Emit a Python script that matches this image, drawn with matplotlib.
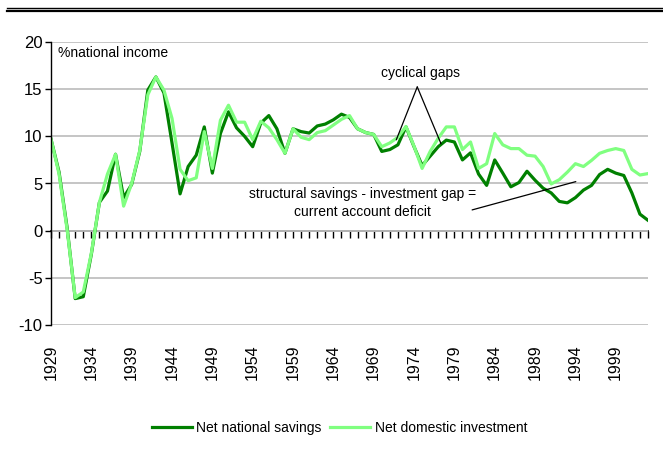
import matplotlib
matplotlib.use('Agg')
import matplotlib.pyplot as plt
from matplotlib.lines import Line2D
import numpy as np

plt.rcParams['font.family'] = ['Liberation Sans', 'DejaVu Sans']
plt.rcParams['axes.unicode_minus'] = False

years = np.arange(1929, 2004)
savings = [9.7, 6.2, 0.3, -7.2, -7.0, -2.5, 3.0, 4.2, 8.1, 3.5,
           4.9, 8.4, 14.9, 16.3, 14.6, 9.3, 3.9, 6.8, 8.0, 11.0,
           6.1, 10.3, 12.6, 10.9, 10.0, 8.9, 11.4, 12.2, 10.8, 8.2,
           10.8, 10.5, 10.35, 11.1, 11.3, 11.75, 12.35, 12.0, 10.8, 10.4,
           10.2, 8.4, 8.6, 9.1, 11.0, 8.9, 6.9, 7.9, 8.9, 9.6,
           9.4, 7.5, 8.25, 6.0, 4.8, 7.5, 6.1, 4.65, 5.1, 6.3,
           5.35, 4.5, 4.0, 3.1, 2.95, 3.5, 4.3, 4.8, 5.95, 6.5,
           6.1, 5.85, 4.0, 1.75, 1.1]
investment = [9.7, 6.0, 0.1, -7.1, -6.5, -2.4, 3.0, 6.0, 8.1, 2.6,
              5.0, 8.5, 14.4, 16.3, 14.9, 11.9, 6.5, 5.3, 5.6, 10.5,
              6.6, 11.7, 13.3, 11.5, 11.5, 9.65, 11.6, 10.9, 9.65, 8.2,
              10.8, 9.9, 9.65, 10.4, 10.6, 11.2, 11.8, 12.2, 10.8, 10.4,
              10.2, 8.9, 9.3, 9.9, 11.05, 8.95, 6.6, 8.4, 9.8, 11.0,
              11.0, 8.6, 9.4, 6.6, 7.1, 10.3, 9.1, 8.7, 8.7, 8.0,
              7.9, 6.8, 4.95, 5.4, 6.2, 7.1, 6.8, 7.45, 8.2, 8.5,
              8.7, 8.5, 6.5, 5.9, 6.05]
label_years = list(range(1929, 2000, 5))
x_labels = [str(y) for y in label_years]
y_ticks = [-10, -5, 0, 5, 10, 15, 20]
series_names = ['Net national savings', 'Net domestic investment']

dark = '#008000'
light = '#80FF80'

fig = plt.figure(figsize=(6.63, 4.5), dpi=100)
ax = fig.add_axes([51/663, 125/450, 597/663, 283/450])
ax.set_xlim(1929, 2003)
ax.set_ylim(-10, 20)

ax.set_yticks(y_ticks)
ax.yaxis.grid(True, color='#C0C0C0', lw=1.3)
ax.set_axisbelow(True)

ax.plot(years, savings, color=dark, lw=2.3, label=series_names[0], solid_joinstyle='round')
ax.plot(years, investment, color=light, lw=2.3, label=series_names[1], solid_joinstyle='round')

for s in ['top', 'right', 'bottom']:
    ax.spines[s].set_visible(False)
ax.spines['left'].set_color('black')
ax.spines['left'].set_linewidth(1.0)
ax.tick_params(axis='y', direction='out', length=4, width=1, labelsize=12, pad=2)
ax.set_xticks(label_years)
ax.set_xticklabels(x_labels, rotation=90)
ax.tick_params(axis='x', length=0, pad=14, labelsize=11.5)

sec = ax.secondary_xaxis(1/3)
sec.set_xticks(years)
sec.tick_params(direction='out', length=5, width=1, labelbottom=False, labeltop=False)
sec.spines['bottom'].set_color('black')
sec.spines['bottom'].set_linewidth(1.2)

ax.text(1929.9, 18.8, '%national income', fontsize=10, va='center', ha='left')
ax.text(1974.8, 16.7, 'cyclical gaps', fontsize=10, ha='center', va='center')
ax.annotate('', xy=(1971.8, 9.63), xytext=(1974.4, 15.24),
            arrowprops=dict(arrowstyle='-', color='black', lw=0.9, shrinkA=0, shrinkB=0))
ax.annotate('', xy=(1977.35, 9.2), xytext=(1974.4, 15.24),
            arrowprops=dict(arrowstyle='-', color='black', lw=0.9, shrinkA=0, shrinkB=0))
ax.text(1967.6, 2.9, 'structural savings - investment gap =\ncurrent account deficit',
        fontsize=10, ha='center', va='center', linespacing=1.35)
ax.annotate('', xy=(1994.05, 5.2), xytext=(1981.2, 2.2),
            arrowprops=dict(arrowstyle='-', color='black', lw=0.9, shrinkA=0, shrinkB=0))

fig.add_artist(Line2D([0.0106, 1.0], [1 - 8.3/450] * 2, color='black', lw=1.0))
fig.add_artist(Line2D([0.0106, 1.0], [1 - 11.2/450] * 2, color='black', lw=1.6))

handles, labels = ax.get_legend_handles_labels()
fig.legend(handles, labels, loc='center', bbox_to_anchor=(0.512, 0.049), ncol=2,
           frameon=False, fontsize=10, handlelength=2.9, handletextpad=0.3,
           columnspacing=0.6)

fig.savefig('out.png', dpi=100)
